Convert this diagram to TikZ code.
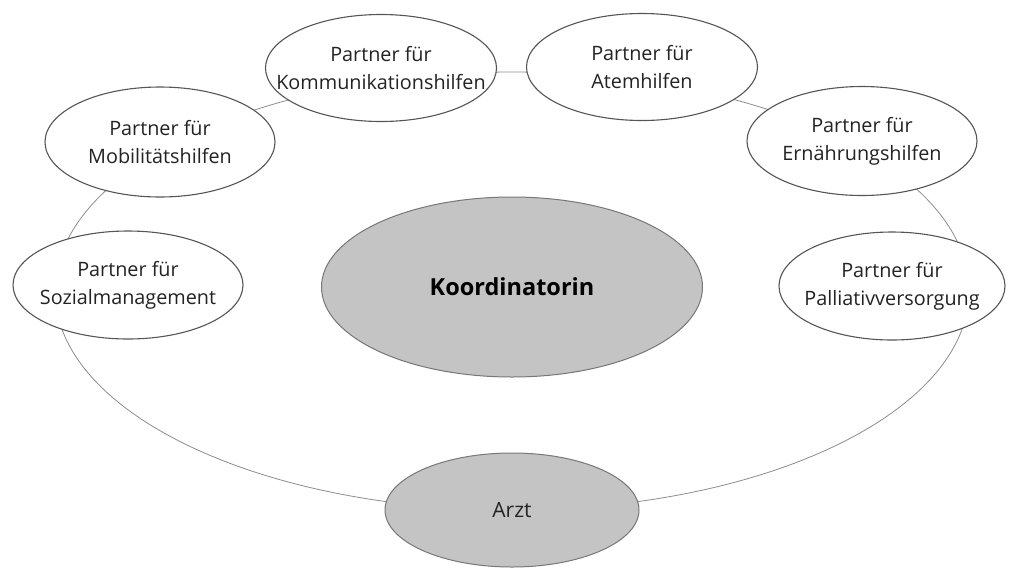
\documentclass[tikz,border=0pt]{standalone}
\usepackage{fontspec}
\setmainfont{Open Sans}
\usetikzlibrary{shapes.geometric}
\definecolor{ringc}{RGB}{140,140,140}
\definecolor{edgec}{RGB}{85,85,85}
\definecolor{fillc}{RGB}{196,196,196}
\definecolor{txtc}{RGB}{35,35,35}
\tikzset{
  partner/.style={ellipse, draw=edgec, line width=1.1pt, fill=white, inner sep=0pt,
    minimum width=230pt, minimum height=108pt},
  grey/.style={ellipse, draw=edgec!80, line width=1pt, fill=fillc, inner sep=0pt},
  every label/.style={align=center, text=txtc, font=\fontsize{19.8}{28}\selectfont, inner sep=0pt},
  ringline/.style={draw=ringc, line width=0.8pt}
}
\begin{document}
\begin{tikzpicture}[x=1pt,y=-1pt]
\useasboundingbox (0,0) rectangle (1009,568);
\coordinate (rc) at (512,291);
\draw[ringline] (rc) ellipse [x radius=457pt, y radius=219pt];
\node[partner, minimum width=231pt, minimum height=107pt] (komm) at (381,68)
  [label={center:Partner für\\Kommunikationshilfen}] {};
\node[partner, minimum width=231pt, minimum height=107pt] (atem) at (642,67)
  [label={center:Partner für\\Atemhilfen}] {};
\node[partner, minimum height=110pt] (mobil) at (160,142)
  [label={center:Partner für\\Mobilitätshilfen}] {};
\node[partner, minimum height=109pt] (ernae) at (862,141)
  [label={center:Partner für\\Ernährungshilfen}] {};
\node[partner] (sozial) at (128,285)
  [label={center:Partner für\\Sozialmanagement}] {};
\node[partner, minimum width=226pt] (pallia) at (892,286)
  [label={center:Partner für\\Palliativversorgung}] {};
\node[grey, minimum width=381pt, minimum height=180pt] (koord) at (512,287)
  [label={[font=\fontsize{23.5}{28}\bfseries\selectfont, text=black]center:Koordinatorin}] {};
\node[grey, minimum width=254pt, minimum height=114pt] (arzt) at (512,510)
  [label={[font=\fontsize{21}{28}\selectfont]center:Arzt}] {};
\end{tikzpicture}
\end{document}
